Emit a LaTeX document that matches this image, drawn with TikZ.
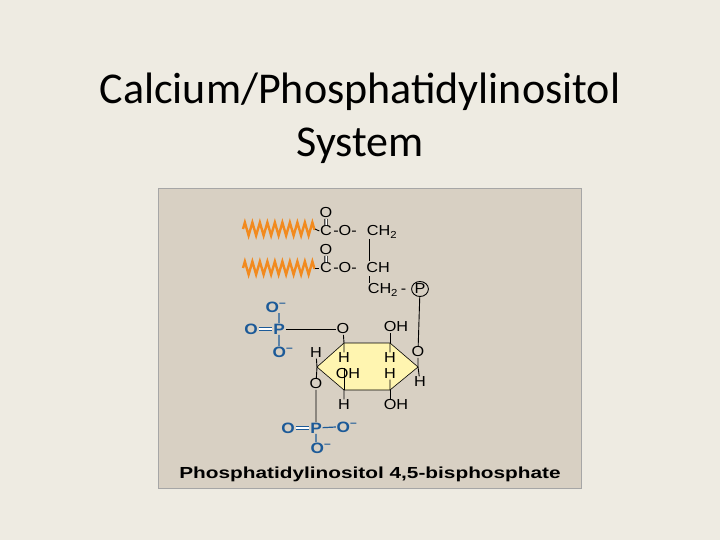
\documentclass[tikz,border=0pt]{standalone}
\usepackage{fontspec}
\setmainfont{Carlito}
\newfontfamily\arial{Liberation Sans}
\usetikzlibrary{decorations.pathmorphing}
\definecolor{bg}{HTML}{EEEBE2}
\definecolor{panel}{HTML}{D8D0C3}
\definecolor{pblue}{HTML}{1C5A98}
\definecolor{zig}{HTML}{F28A1E}
\definecolor{ring}{HTML}{FFF5B0}
\tikzset{
 atm/.style={font=\arial\fontsize{14.5}{15}\selectfont, inner sep=0.5pt, xscale=1.12},
 pb/.style={font=\arial\bfseries\fontsize{15}{15}\selectfont, text=pblue, inner sep=0.5pt, xscale=1.15},
 bond/.style={line width=0.9pt},
 pbond/.style={line width=1.2pt, pblue},
 zz/.style={zig, line width=2.4pt, decorate, decoration={zigzag, segment length=7.5pt, amplitude=6.5pt}}
}
\begin{document}
\begin{tikzpicture}[x=1pt,y=-1pt]
\fill[bg] (0,0) rectangle (720,540);
\useasboundingbox (0,0) rectangle (720,540);
\node[font=\fontsize{44}{53}\selectfont, align=center] (title) at (360,118) {Calcium/Phosphatidylinositol\\System};
\draw[fill=panel, draw=gray!70, line width=0.8pt] (158,188) rectangle (581,488);
% fatty acid chains
\coordinate (z1a) at (243,229); \coordinate (z1b) at (315,229);
\coordinate (z2a) at (243,268); \coordinate (z2b) at (315,268);
\draw[zz] (z1a) -- (z1b);
\draw[zz] (z2a) -- (z2b);
\node[atm] (o1) at (326,213) {O};
\node[atm] (c1) at (326,231) {C};
\node[atm] (e1) at (345,231) {-O-};
\node[atm] (ch2a) at (382,232) {CH\textsubscript{2}};
\node[atm] (o2) at (326,250) {O};
\node[atm] (c2) at (326,268) {C};
\node[atm] (e2) at (345,268) {-O-};
\node[atm] (ch) at (378,268) {CH};
\node[atm] (ch2b) at (387,290) {CH\textsubscript{2}\,-};
\node[atm, draw, circle, line width=0.9pt, minimum size=15pt, inner sep=0pt, xscale=1] (pc) at (420,289) {P};
\draw[bond, double, double distance=1.5pt] (o1) -- (c1);
\draw[bond, double, double distance=1.5pt] (o2) -- (c2);
\draw[bond] (369,239) -- (369,261);
\draw[bond] (369,276) -- (369,283);
\draw[bond] (z1b) -- (c1.west);
\draw[bond] (z2b) -- (c2.west);
% ring
\coordinate (v1) at (344,343); \coordinate (v2) at (390,343); \coordinate (v3) at (418,367);
\coordinate (v4) at (390,390); \coordinate (v5) at (344,390); \coordinate (v6) at (317,367);
\draw[fill=ring, line width=0.6pt] (v1) -- (v2) -- (v3) -- (v4) -- (v5) -- (v6) -- cycle;
\node[atm] (oa) at (343,329) {O};
\node[atm] (oh1) at (396,327) {OH};
\node[atm] (or) at (418,352) {O};
\node[atm] (hr) at (420,382) {H};
\node[atm] (hl) at (316,353) {H};
\node[atm] (ol) at (316,384) {O};
\node[atm] (h1) at (344,358) {H};
\node[atm] (oh2) at (348,374) {OH};
\node[atm] (h2) at (390,358) {H};
\node[atm] (h3) at (390,374) {H};
\node[atm] (h4) at (344,405) {H};
\node[atm] (oh3) at (396,405) {OH};
\draw[bond] (pc) -- (or);
\draw[bond] (oa) -- (v1); \draw[bond] (oh1.south -| v2) -- (v2);
\draw[bond] (or) -- (v3); \draw[bond] (v3) -- (hr);
\draw[bond] (hl) -- (v6); \draw[bond] (v6) -- (ol);
\draw[bond] (v1) -- (h1); \draw[bond] (v2) -- (h2);
\draw[bond] (v5) -- (oh2.north -| v5); \draw[bond] (v4) -- (h3);
\draw[bond] (v5) -- (h4); \draw[bond] (v4) -- (oh3.north -| v4);
% phosphate 1
\node[pb] (p1om) at (276,307) {O\textsuperscript{–}};
\node[pb] (p1o) at (251,329) {O};
\node[pb] (p1) at (279,329) {P};
\node[pb] (p1ob) at (283,352) {O\textsuperscript{–}};
\draw[pbond, double, double distance=1.5pt] (p1o) -- (p1);
\draw[pbond] (p1) -- (p1om.south -| p1);
\draw[pbond] (p1) -- (p1ob.north -| p1);
\draw[bond] (p1) -- (oa);
% phosphate 2
\node[pb] (p2o) at (288,428) {O};
\node[pb] (p2) at (316,428) {P};
\node[pb] (p2or) at (347,427) {O\textsuperscript{–}};
\node[pb] (p2ob) at (321,448) {O\textsuperscript{–}};
\draw[pbond, double, double distance=1.5pt] (p2o) -- (p2);
\draw[pbond] (p2) -- (p2or.west);
\draw[pbond] (p2) -- (p2ob.north -| p2);
\draw[bond] (ol) -- (p2);
\node[font=\arial\bfseries\fontsize{16}{16}\selectfont, xscale=1.3] (cap) at (370,474) {Phosphatidylinositol 4,5-bisphosphate};
\end{tikzpicture}
\end{document}
